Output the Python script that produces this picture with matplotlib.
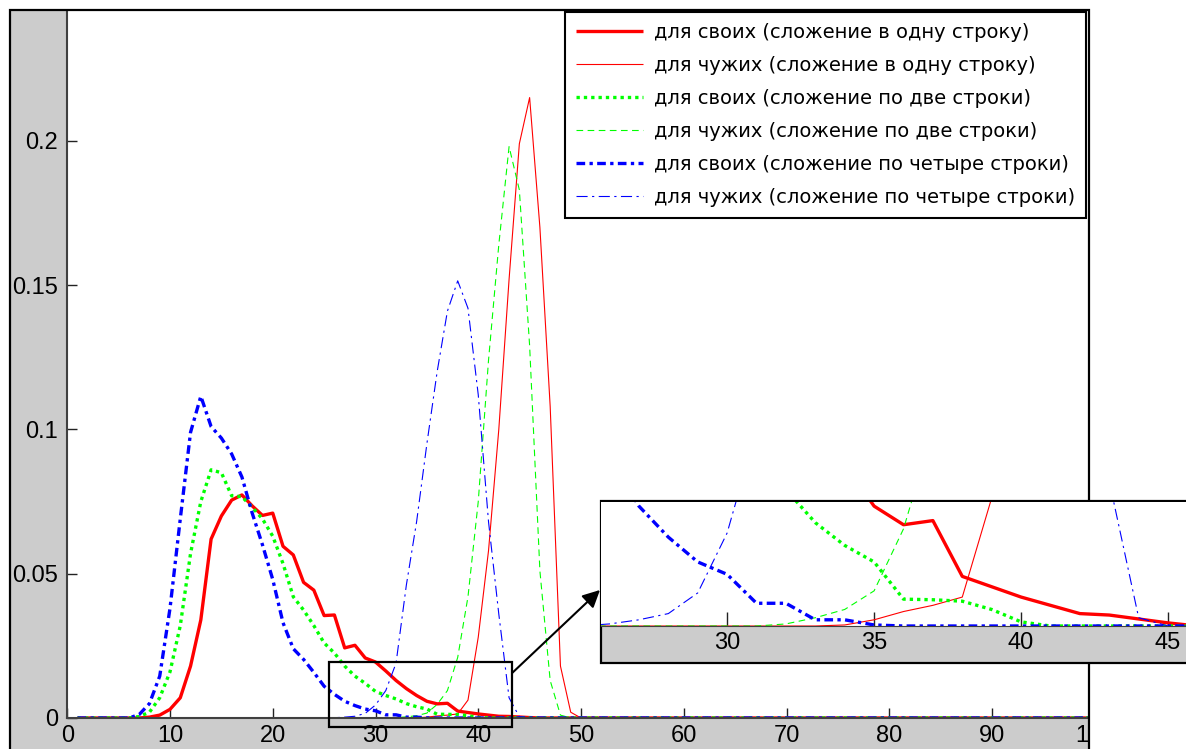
import matplotlib
matplotlib.use('Agg')
import matplotlib.pyplot as plt
from matplotlib.patches import Rectangle
import numpy as np

plt.rcParams['font.family'] = ['Liberation Sans', 'DejaVu Sans']

W, H = 1186, 749  # picture size, px

# --- data: x = 1..50, 51..100 all lie on zero ---
x = np.arange(1, 101)
tail = [0.0] * 50

own_1 = [0, 0, 0, 0, 0, 0, 0, 0.0003, 0.001, 0.003,
         0.007, 0.018, 0.034, 0.062, 0.070, 0.0755, 0.0773, 0.0735, 0.0702, 0.0710,
         0.0595, 0.0565, 0.047, 0.0443, 0.0355, 0.0357, 0.0243, 0.0252, 0.0208, 0.0194,
         0.0163, 0.013, 0.0102, 0.0078, 0.0058, 0.0049, 0.0051, 0.0024, 0.0019, 0.0014,
         0.0010, 0.0006, 0.00053, 0.00034, 0.00015, 0, 0, 0, 0, 0]
alien_1 = [0] * 33 + [0.00005, 0.0003, 0.0007, 0.001, 0.0014, 0.0062, 0.028,
                      0.058, 0.100, 0.152, 0.199, 0.215, 0.170, 0.108, 0.018, 0.002, 0]
own_2 = [0, 0, 0, 0, 0, 0, 0.0005, 0.002, 0.007, 0.016,
         0.032, 0.057, 0.075, 0.086, 0.085, 0.077, 0.0767, 0.073, 0.069, 0.063,
         0.0535, 0.042, 0.0374, 0.032, 0.026, 0.0225, 0.018, 0.0145, 0.012, 0.0092,
         0.0078, 0.0066, 0.0050, 0.0039, 0.0031, 0.0013, 0.00127, 0.0012, 0.0008, 0.0002,
         0, 0, 0, 0, 0, 0, 0, 0, 0, 0]
alien_2 = [0] * 31 + [0.0001, 0.0004, 0.0008, 0.0017, 0.0047, 0.0095, 0.021, 0.042, 0.075,
                      0.124, 0.164, 0.198, 0.183, 0.129, 0.051, 0.013, 0.001, 0, 0]
own_4 = [0, 0, 0, 0, 0, 0, 0.0012, 0.005, 0.0145, 0.038,
         0.069, 0.099, 0.1115, 0.101, 0.097, 0.0915, 0.0835, 0.071, 0.060, 0.048,
         0.033, 0.024, 0.0203, 0.0158, 0.011, 0.0082, 0.0058, 0.0043, 0.0031, 0.0025,
         0.0011, 0.0011, 0.0003, 0.0003, 0.00005, 0, 0, 0, 0, 0,
         0, 0, 0, 0, 0, 0, 0, 0, 0, 0]
alien_4 = [0] * 25 + [0.0001, 0.0003, 0.0006, 0.0016, 0.0045, 0.0095, 0.019, 0.046, 0.068,
                      0.095, 0.120, 0.141, 0.1515, 0.142, 0.112, 0.068, 0.036, 0.007, 0.0004,
                      0, 0, 0, 0, 0, 0]

labels = ['для своих (сложение в одну строку)',
          'для чужих (сложение в одну строку)',
          'для своих (сложение по две строки)',
          'для чужих (сложение по две строки)',
          'для своих (сложение по четыре строки)',
          'для чужих (сложение по четыре строки)']
series = [own_1, alien_1, own_2, alien_2, own_4, alien_4]

GREEN = (0, 1, 0)
styles = [dict(color='r', lw=2.4, ls='-'),
          dict(color='r', lw=0.8, ls='-'),
          dict(color=GREEN, lw=2.4, ls=(0, (1, 1.2))),
          dict(color=GREEN, lw=0.8, ls=(0, (6, 4))),
          dict(color='b', lw=2.4, ls=(0, (2.6, 1.3, 1, 1.3))),
          dict(color='b', lw=0.8, ls=(0, (10, 4, 2, 4)))]

GRAY = '#cccccc'
TICK_FS = 17


def frac(x0, y0, x1, y1):
    """image pixel box (top-left origin) -> figure fraction rect"""
    return [x0 / W, 1 - y1 / H, (x1 - x0) / W, (y1 - y0) / H]


def plot_all(ax):
    for vals, st, lab in zip(series, styles, labels):
        ax.plot(x, np.array(vals + tail), label=lab, solid_capstyle='butt', **st)


fig = plt.figure(figsize=(W / 100, H / 100), dpi=100, facecolor='white')

# grey window behind the main axes
fig.add_artist(Rectangle((10 / W, 0), 1079 / W, 1 - 10 / H, transform=fig.transFigure,
                         facecolor=GRAY, edgecolor='none', zorder=-1))

# --- main axes ---
ax = fig.add_axes(frac(67.25, 11, 1094.75, 718))
plot_all(ax)
ax.set_xlim(0, 100)
ax.set_ylim(0, 0.245)
ax.set_xticks(range(0, 101, 10))
ax.set_yticks([0, 0.05, 0.1, 0.15, 0.2])
ax.set_yticklabels(['0', '0.05', '0.1', '0.15', '0.2'])
ax.tick_params(direction='in', length=7, width=1, labelsize=TICK_FS, color='#222222')
ax.tick_params(axis='x', pad=5)
ax.tick_params(axis='y', pad=6.5)
for s in ['top', 'right']:
    ax.spines[s].set_visible(False)
for s in ['left', 'bottom']:
    ax.spines[s].set_color('#404040')
    ax.spines[s].set_linewidth(1.5)

leg = ax.legend(loc='upper right', bbox_to_anchor=(1086 / W, 1 - 12 / H),
                bbox_transform=fig.transFigure, borderaxespad=0, fancybox=False,
                edgecolor='k', framealpha=1, handlelength=3.45,
                handletextpad=0.55, labelspacing=0.72, borderpad=0.56,
                prop={'family': 'DejaVu Sans', 'size': 14})
leg.get_frame().set_linewidth(1.5)

# zoom box and arrow
zoom_box = (25.5, 43.3, -0.0031, 0.0194)
ax.add_patch(Rectangle((zoom_box[0], zoom_box[2]), zoom_box[1] - zoom_box[0],
                       zoom_box[3] - zoom_box[2], fill=False, edgecolor='k', lw=1.6,
                       clip_on=False, zorder=6))
ax.annotate('', xy=(600, H - 590), xycoords='figure pixels',
            xytext=(zoom_box[1], 0.0156), textcoords='data', annotation_clip=False,
            arrowprops=dict(arrowstyle='-|>', color='k', lw=1.5, mutation_scale=26,
                            shrinkA=0, shrinkB=0))

# white area right of the window, and window border
fig.add_artist(Rectangle((1089 / W, 0), 1 - 1089 / W, 1, transform=fig.transFigure,
                         facecolor='white', edgecolor='none', zorder=1))
fig.add_artist(Rectangle((10 / W, -0.05), 1079 / W, 1.05 - 10 / H, transform=fig.transFigure,
                         fill=False, edgecolor='k', lw=1.6, zorder=2))

# --- inset ---
fig.add_artist(Rectangle((601 / W, 1 - 663 / H), 0.6, 162 / H, transform=fig.transFigure,
                         facecolor=GRAY, edgecolor='k', lw=1.6, zorder=3))
axi = fig.add_axes(frac(601, 502, 1186, 626), zorder=4)
plot_all(axi)
axi.set_xlim(25.71, 45.61)
axi.set_ylim(0, 0.006)
axi.set_xticks([30, 35, 40, 45])
axi.set_yticks([])
axi.tick_params(direction='in', length=10, width=1, labelsize=TICK_FS, pad=4.5,
                color='#222222')
for s in ['top', 'right', 'left']:
    axi.spines[s].set_visible(False)
axi.spines['bottom'].set_color('#404040')

fig.savefig('out.png', dpi=100, facecolor='white')
